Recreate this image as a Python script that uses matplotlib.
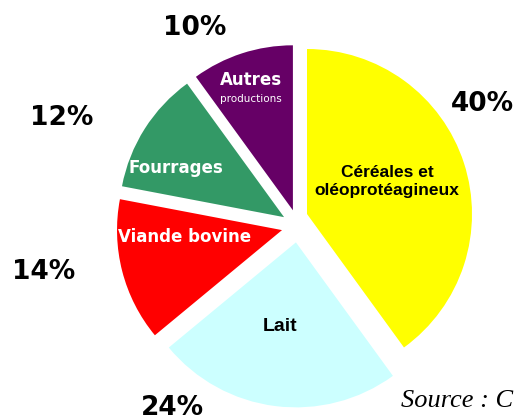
import matplotlib.pyplot as plt

# shares of each production (%)
categories = ['Céréales et\noléoprotéagineux', 'Lait', 'Viande bovine', 'Fourrages', 'Autres']
shares = [40, 24, 14, 12, 10]
pct_labels = ['40%', '24%', '14%', '12%', '10%']
colors = ['#FFFF00', '#CCFFFF', '#FF0000', '#339966', '#660066']
text_colors = ['black', 'black', 'white', 'white', 'white']
label_sizes = [12.5, 14, 12, 12, 12]

# layout (data units, pie radius = 1)
R_PX = 165.0
CX, CY = 298.0, 226.0
W, H = 522, 420


def px(x, y):
    # convert pixel position of the reference to data coords
    return (x - CX) / R_PX, (CY - y) / R_PX


inner_pos = [px(387, 182), px(280, 327), px(185, 237), px(176, 168), px(251, 82)]
pct_pos = [px(482, 104), px(172, 408), px(44, 272), px(62, 118), px(195, 28)]

fig = plt.figure(figsize=(W / 100, H / 100), dpi=100)
ax = fig.add_axes([0, 0, 1, 1])

wedges, _ = ax.pie(shares, colors=colors, startangle=90, counterclock=False,
                   explode=[0.1] * len(shares), radius=1,
                   wedgeprops=dict(linewidth=0))
# the big slice is pulled out a bit differently in the original
wedges[0].set_center(px(307, 214))

for i, name in enumerate(categories):
    x, y = inner_pos[i]
    if name == 'Autres':
        ax.text(x, y + 0.01, 'Autres', ha='center', va='center', color='white',
                fontsize=label_sizes[i], fontweight='bold')
        ax.text(x, y - 0.105, 'productions', ha='center', va='center', color='white',
                fontsize=7.5)
    elif text_colors[i] == 'black':
        # these two are in an Arial-like face in the original
        ax.text(x, y, name, ha='center', va='center', color=text_colors[i],
                fontsize=label_sizes[i], fontweight='bold', family='Liberation Sans',
                linespacing=1.25)
    else:
        ax.text(x, y, name, ha='center', va='center', color=text_colors[i],
                fontsize=label_sizes[i], fontweight='bold')

for i, lab in enumerate(pct_labels):
    x, y = pct_pos[i]
    ax.text(x, y, lab, ha='center', va='center', fontsize=19, fontweight='bold')

ax.text(*px(401, 401), 'Source : C', ha='left', va='center', fontsize=19,
        style='italic', family='Liberation Serif')

ax.set_xlim(-CX / R_PX, (W - CX) / R_PX)
ax.set_ylim(-(H - CY) / R_PX, CY / R_PX)
ax.set_aspect('equal')
ax.axis('off')

fig.savefig('out.png', dpi=100)
